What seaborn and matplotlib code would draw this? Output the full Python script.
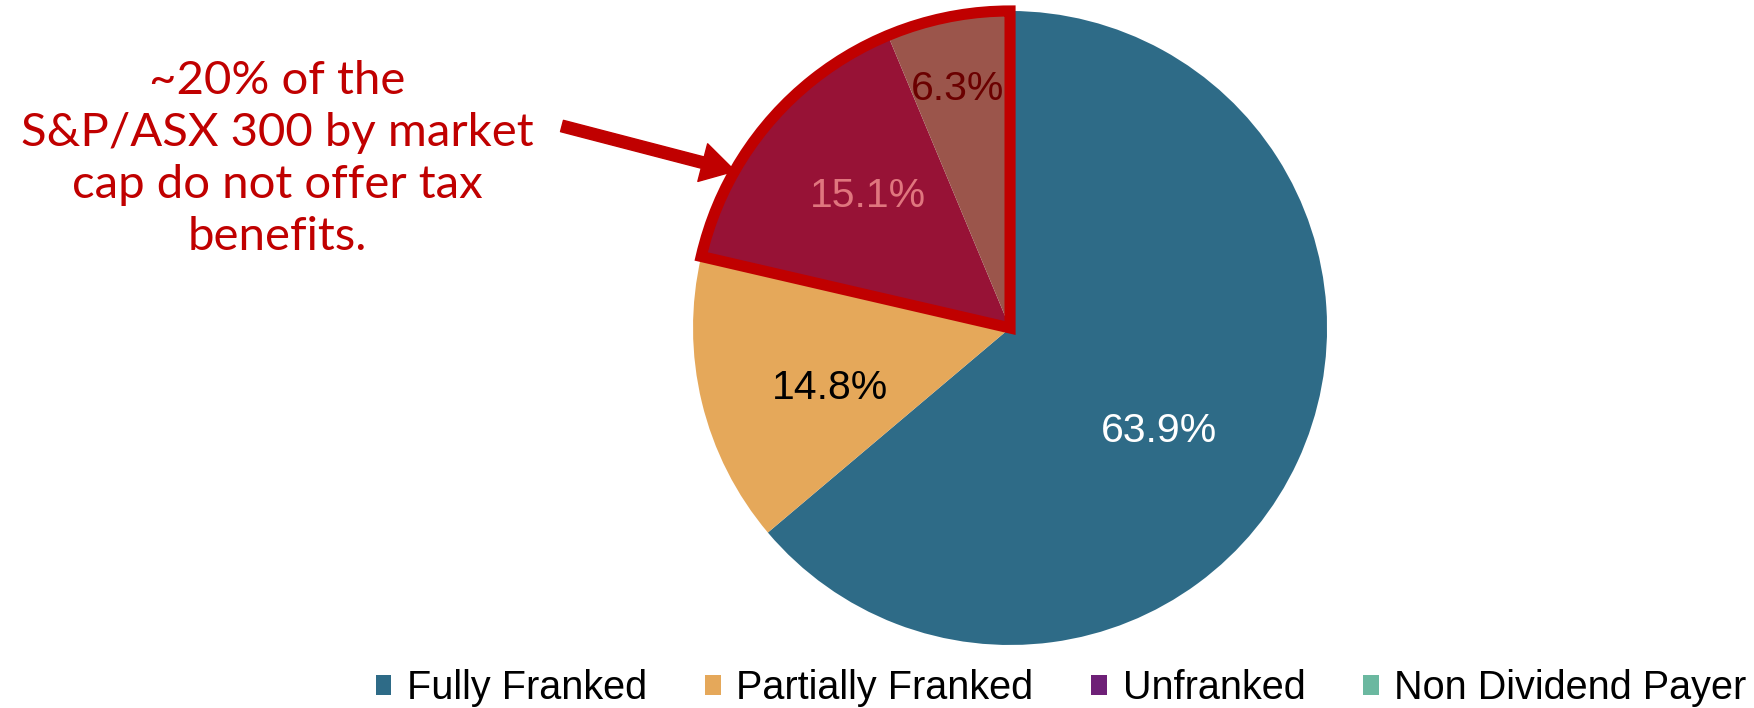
import matplotlib
matplotlib.use('Agg')
import matplotlib.pyplot as plt
from matplotlib.patches import Patch, Wedge
import seaborn as sns

categories = ['Fully Franked', 'Partially Franked', 'Unfranked', 'Non Dividend Payer']
shares = [63.9, 14.8, 15.1, 6.3]
labels = ['63.9%', '14.8%', '15.1%', '6.3%']

pie_colors = ['#2E6B87', '#E5A85A', '#971236', '#9B554B']
legend_colors = ['#2E6B87', '#E5A85A', '#6E2077', '#6BB8A0']
label_colors = ['white', 'black', '#E0767E', '#6B0000']
# label spots in pie units (radius = 1)
label_xy = [(0.47, -0.325), (-0.568, -0.189), (-0.448, 0.416), (-0.164, 0.754)]

note = '~20% of the\nS&P/ASX 300 by market\ncap do not offer tax\nbenefits.'
red = '#C00000'

sns.set_theme(style='white')
plt.rcParams['font.family'] = ['Liberation Sans', 'DejaVu Sans']

fig = plt.figure(figsize=(17.54, 7.08), dpi=100)
ax = fig.add_axes([0.3951, 0.089, 0.3615, 0.8955])

wedges, _ = ax.pie(shares, colors=pie_colors, startangle=90, counterclock=False,
                   wedgeprops=dict(linewidth=0))
ax.set_xlim(-1, 1)
ax.set_ylim(-1, 1)
ax.set_aspect('equal')
ax.axis('off')

for lab, (x, y), c in zip(labels, label_xy, label_colors):
    ax.text(x, y, lab, color=c, fontsize=29.5, ha='center', va='center')

# outline round the two slices with no tax benefit
a1 = min(wedges[2].theta1, wedges[2].theta2, wedges[3].theta1, wedges[3].theta2)
a2 = max(wedges[2].theta1, wedges[2].theta2, wedges[3].theta1, wedges[3].theta2)
box = Wedge((0, 0), 1, a1, a2, fill=False, edgecolor=red, linewidth=8,
            joinstyle='miter', clip_on=False)
ax.add_patch(box)

fig.text(277 / 1754, 1 - 159 / 708, note, color=red, fontsize=34, family=['Lato', 'DejaVu Sans'],
         ha='center', va='center', linespacing=1.3)

ax.annotate('', xy=(735, 708 - 171), xycoords='figure pixels',
            xytext=(562, 708 - 126), textcoords='figure pixels',
            arrowprops=dict(arrowstyle='simple,head_length=1.2,head_width=1.4,tail_width=0.42',
                            color=red, mutation_scale=20, shrinkA=0, shrinkB=0))

handles = [Patch(facecolor=c, edgecolor='none') for c in legend_colors]
fig.legend(handles, categories, loc='center', bbox_to_anchor=(0.605, 0.028), ncol=4,
           frameon=False, fontsize=28.5, labelcolor='black', handlelength=0.4, handleheight=0.4,
           handletextpad=0.4, columnspacing=1.45, borderpad=0)

fig.savefig('out.png', dpi=100, facecolor='white')
